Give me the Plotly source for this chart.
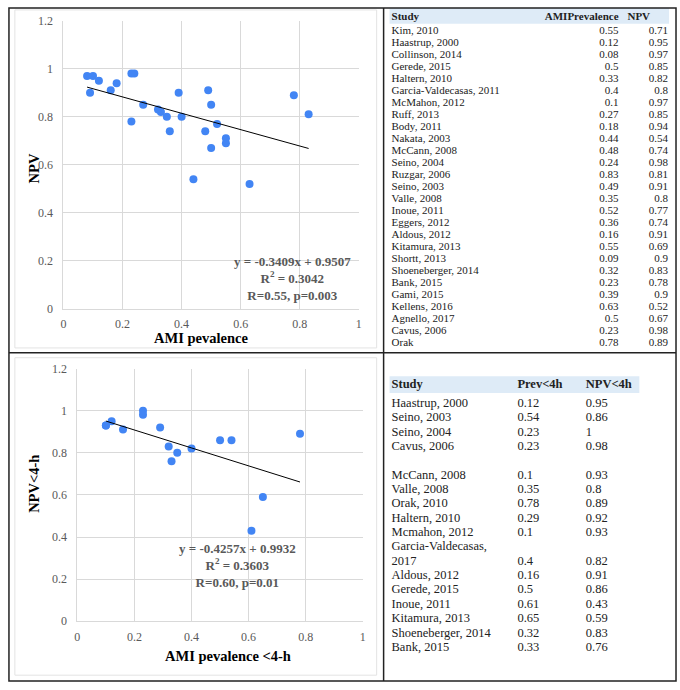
import numpy as np
import plotly.graph_objects as go

# ---- data: all studies (top table / upper chart)
studies = ["Kim, 2010", "Haastrup, 2000", "Collinson, 2014", "Gerede, 2015", "Haltern, 2010",
           "Garcia-Valdecasas, 2011", "McMahon, 2012", "Ruff, 2013", "Body, 2011", "Nakata, 2003",
           "McCann, 2008", "Seino, 2004", "Ruzgar, 2006", "Seino, 2003", "Valle, 2008",
           "Inoue, 2011", "Eggers, 2012", "Aldous, 2012", "Kitamura, 2013", "Shortt, 2013",
           "Shoeneberger, 2014", "Bank, 2015", "Gami, 2015", "Kellens, 2016", "Agnello, 2017",
           "Cavus, 2006", "Orak"]
prev = [0.55, 0.12, 0.08, 0.5, 0.33, 0.4, 0.1, 0.27, 0.18, 0.44, 0.48, 0.24, 0.83, 0.49, 0.35,
        0.52, 0.36, 0.16, 0.55, 0.09, 0.32, 0.23, 0.39, 0.63, 0.5, 0.23, 0.78]
npv = [0.71, 0.95, 0.97, 0.85, 0.82, 0.8, 0.97, 0.85, 0.94, 0.54, 0.74, 0.98, 0.81, 0.91, 0.8,
       0.77, 0.74, 0.91, 0.69, 0.9, 0.83, 0.78, 0.9, 0.52, 0.67, 0.98, 0.89]

# ---- data: studies < 4h (bottom table / lower chart)
studies4 = ["Haastrup, 2000", "Seino, 2003", "Seino, 2004", "Cavus, 2006", "McCann, 2008",
            "Valle, 2008", "Orak, 2010", "Haltern, 2010", "Mcmahon, 2012",
            "Garcia-Valdecasas,<br>2017", "Aldous, 2012", "Gerede, 2015", "Inoue, 2011",
            "Kitamura, 2013", "Shoeneberger, 2014", "Bank, 2015"]
prev4 = [0.12, 0.54, 0.23, 0.23, 0.1, 0.35, 0.78, 0.29, 0.1, 0.4, 0.16, 0.5, 0.61, 0.65, 0.32, 0.33]
npv4 = [0.95, 0.86, 1, 0.98, 0.93, 0.8, 0.89, 0.92, 0.93, 0.82, 0.91, 0.86, 0.43, 0.59, 0.83, 0.76]

# regression results shown on the charts
fit1 = dict(slope=-0.3409, intercept=0.9507, r2=0.3042, label="R=0.55, p=0.003")
fit4 = dict(slope=-0.4257, intercept=0.9932, r2=0.3603, label="R=0.60, p=0.01")

W, H = 680, 690
SERIF = "Liberation Serif"
BLUE = "#4285f4"
GRID = "#d9d9d9"
TICK = "#595959"
INK = "#222"


def fmt(v):
    return f"{v:g}"


def dom_x(a, b):
    return [a / W, b / W]


def dom_y(top, bottom):
    return [1 - bottom / H, 1 - top / H]


def text_col(x, y, text, pos, size):
    return go.Scatter(x=[x] * len(text), y=y, text=text, mode="text", textposition=pos,
                      xaxis="x3", yaxis="y3", hoverinfo="skip", cliponaxis=False,
                      textfont=dict(family=SERIF, size=size, color=INK), showlegend=False)


fig = go.Figure()

# scatter + trendlines
for xs, ys, fit, ax in [(prev, npv, fit1, ""), (prev4, npv4, fit4, "2")]:
    fig.add_trace(go.Scatter(x=xs, y=ys, mode="markers", xaxis="x" + ax, yaxis="y" + ax,
                             marker=dict(color=BLUE, size=8), showlegend=False))
    lx = np.array([min(xs), max(xs)])
    fig.add_trace(go.Scatter(x=lx, y=fit["slope"] * lx + fit["intercept"], mode="lines",
                             xaxis="x" + ax, yaxis="y" + ax,
                             line=dict(color="black", width=1), showlegend=False))

# ---- top table, drawn as text on a pixel-unit overlay axis
row0, pitch = 25, 12.25
ys_top = [row0 + i * pitch for i in range(len(studies))]
fig.add_trace(text_col(392, ys_top, studies, "middle right", 11))
fig.add_trace(text_col(621, ys_top, [fmt(v) for v in prev], "middle left", 11))
fig.add_trace(text_col(671, ys_top, [fmt(v) for v in npv], "middle left", 11))
fig.add_trace(text_col(392, [10], ["<b>Study</b>"], "middle right", 11))
fig.add_trace(text_col(621, [10], ["<b>AMIPrevalence</b>"], "middle left", 11))
fig.add_trace(text_col(630, [10], ["<b>NPV</b>"], "middle right", 11))

# ---- bottom table: rows can wrap, and there is a blank line after the 4th row
line0, lpitch, gap_after = 405, 14.65, 3
name_txt, name_y, val_y = [], [], []
line = 0
for i, s in enumerate(studies4):
    parts = s.split("<br>")
    for k, p in enumerate(parts):
        name_txt.append(p)
        name_y.append(line0 + (line + k) * lpitch)
    val_y.append(line0 + (line + len(parts) - 1) * lpitch)
    line += len(parts)
    if i == gap_after:
        line += 1
fig.add_trace(text_col(392, name_y, name_txt, "middle right", 12.5))
fig.add_trace(text_col(519, val_y, [fmt(v) for v in prev4], "middle right", 12.5))
fig.add_trace(text_col(588, val_y, [fmt(v) for v in npv4], "middle right", 12.5))
fig.add_trace(text_col(392, [386], ["<b>Study</b>"], "middle right", 12.5))
fig.add_trace(text_col(519, [386], ["<b>Prev<4h</b>"], "middle right", 12.5))
fig.add_trace(text_col(588, [386], ["<b>NPV<4h</b>"], "middle right", 12.5))

axis_style = dict(showgrid=True, gridcolor=GRID, gridwidth=1, zeroline=False,
                  showline=True, linecolor=GRID, mirror=False, ticks="",
                  tickfont=dict(family=SERIF, size=12, color=TICK), fixedrange=True)

fig.update_layout(
    width=W, height=H, margin=dict(l=0, r=0, t=0, b=0),
    paper_bgcolor="white", plot_bgcolor="rgba(0,0,0,0)",
    xaxis=dict(domain=dom_x(61, 359), range=[0, 1], dtick=0.2, anchor="y",
               ticklabelstandoff=4, **axis_style),
    yaxis=dict(domain=dom_y(14, 308), range=[0, 1.2], dtick=0.2, anchor="x",
               ticklabelstandoff=7, **axis_style),
    xaxis2=dict(domain=dom_x(75, 363), range=[0, 1], dtick=0.2, anchor="y2",
                ticklabelstandoff=4, **axis_style),
    yaxis2=dict(domain=dom_y(369, 627), range=[0, 1.2], dtick=0.2, anchor="x2",
                ticklabelstandoff=7, **axis_style),
    xaxis3=dict(domain=[0, 1], range=[0, W], visible=False, anchor="y3", fixedrange=True),
    yaxis3=dict(domain=[0, 1], range=[H, 0], visible=False, anchor="x3", fixedrange=True),
)

shapes = []
# header bands
shapes.append(dict(type="rect", xref="x3", yref="y3", x0=390, x1=672, y0=1, y1=17,
                   fillcolor="#deebf7", line_width=0, layer="below"))
shapes.append(dict(type="rect", xref="x3", yref="y3", x0=390, x1=642, y0=377, y1=394,
                   fillcolor="#deebf7", line_width=0, layer="below"))
# chart frames
for y0, y1 in [(3, 348), (358, 682)]:
    shapes.append(dict(type="rect", xref="x3", yref="y3", x0=12, x1=377, y0=y0, y1=y1,
                       line=dict(color="#e3e3e3", width=1)))
# outer borders and dividers
shapes.append(dict(type="rect", xref="x3", yref="y3", x0=6, x1=679, y0=1, y1=688,
                   line=dict(color=INK, width=1.5)))
shapes.append(dict(type="line", xref="x3", yref="y3", x0=384, x1=384, y0=1, y1=688,
                   line=dict(color=INK, width=1.5)))
shapes.append(dict(type="line", xref="x3", yref="y3", x0=6, x1=679, y0=353, y1=353,
                   line=dict(color=INK, width=1.5)))
fig.update_layout(shapes=shapes)

ann = []
title_font = dict(family=SERIF, size=14.5, color="black")
ann.append(dict(x=200, y=338, xref="x3", yref="y3", text="<b>AMI pevalence</b>",
                showarrow=False, font=title_font))
ann.append(dict(x=31, y=165, xref="x3", yref="y3", text="<b>NPV</b>", textangle=-90,
                showarrow=False, font=title_font))
ann.append(dict(x=227, y=662, xref="x3", yref="y3", text="<b>AMI pevalence <4-h</b>",
                showarrow=False, font=title_font))
ann.append(dict(x=31, y=487, xref="x3", yref="y3", text="<b>NPV<4-h</b>", textangle=-90,
                showarrow=False, font=title_font))
for fit, ax, x, y in [(fit1, "", 0.775, 0.127), (fit4, "2", 0.561, 0.264)]:
    txt = (f"<b>y = {fit['slope']:.4f}x + {fit['intercept']:.4f}<br>"
           f"R<sup>2</sup> = {fit['r2']:.4f}<br>{fit['label']}</b>")
    ann.append(dict(x=x, y=y, xref="x" + ax, yref="y" + ax, text=txt, showarrow=False,
                    align="center", font=dict(family=SERIF, size=13, color=TICK)))
fig.update_layout(annotations=ann)

# page margin would otherwise shift the 680x690 figure inside the window
fig.write_html("out.html", config={"displayModeBar": False},
               post_script="document.body.style.margin='0';document.body.style.overflow='hidden';")
